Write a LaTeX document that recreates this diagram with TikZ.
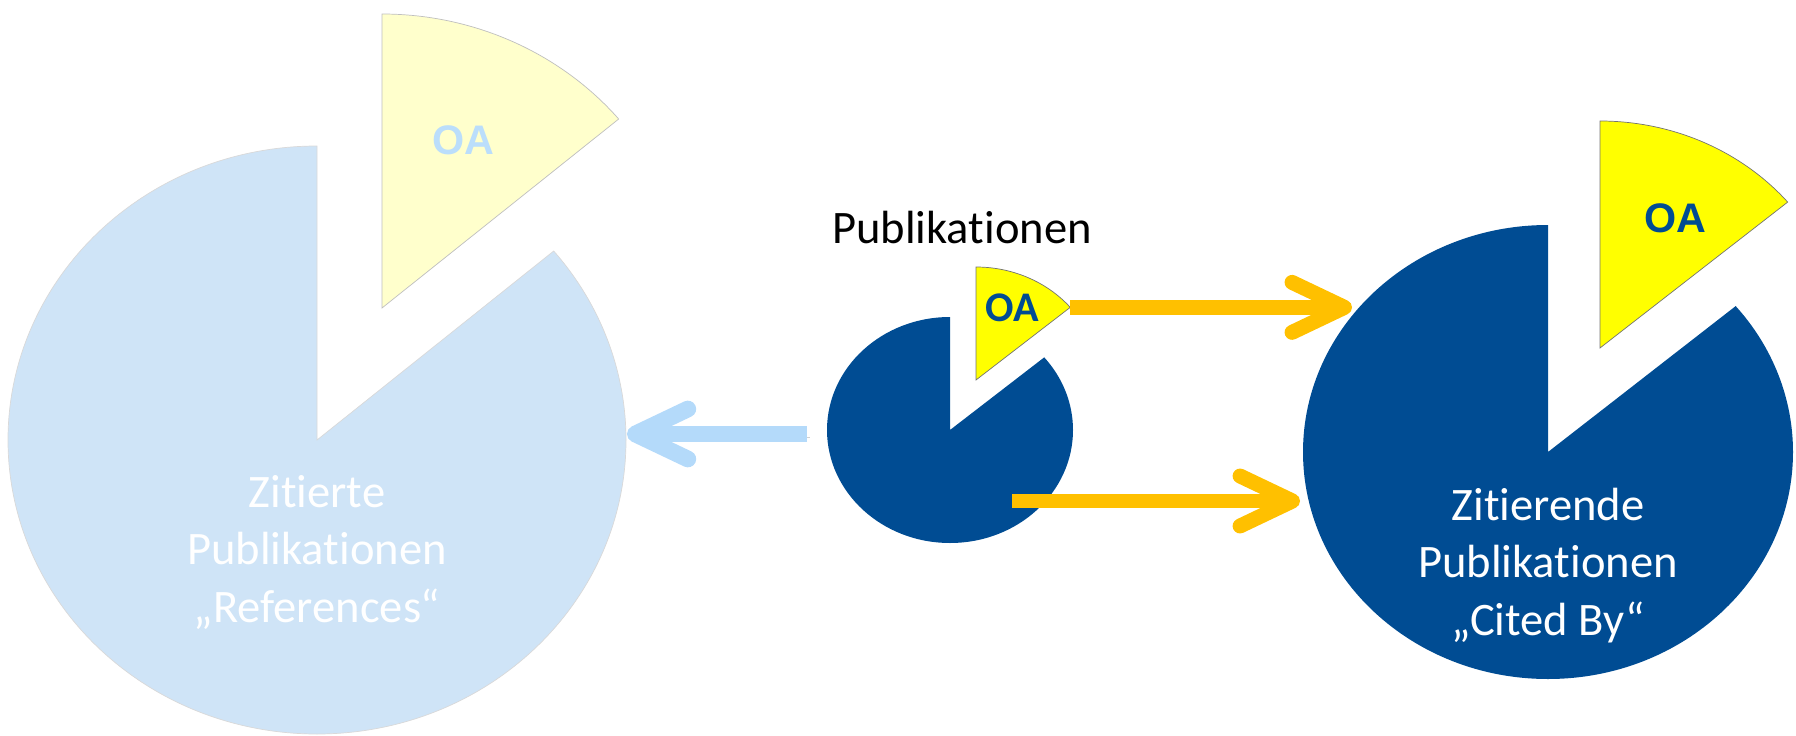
\documentclass[tikz,border=0pt]{standalone}
\usepackage{fontspec}
\setmainfont{Carlito}[Ligatures=NoCommon]
\newfontfamily\oafont{Liberation Sans}
\usetikzlibrary{arrows.meta}
\definecolor{refblue}{HTML}{CFE4F7}
\definecolor{paleyellow}{HTML}{FFFFCC}
\definecolor{citeblue}{HTML}{004C93}
\definecolor{oayellow}{HTML}{FFFF00}
\definecolor{arroworange}{HTML}{FFC000}
\definecolor{arrowblue}{HTML}{B4DAFA}
\definecolor{oapale}{HTML}{BBDEFB}
\tikzstyle{pietext}=[align=center, anchor=base, inner sep=0pt, text=white, font=\fontsize{26.5}{32.6}\selectfont]
\tikzstyle{oalabel}=[inner sep=0pt, font=\oafont\bfseries\fontsize{23.5}{24}\selectfont]
\tikzstyle{flow}=[line width=8.5pt, -{Straight Barb[round, length=1.05cm, width=1.0cm]},
	preaction={draw=black, opacity=0.18, transform canvas={shift={(1.5pt,-2pt)}}}]

\begin{document}
\begin{tikzpicture}[x=0.02cm, y=0.02cm]
			\useasboundingbox (0,0) rectangle (1796,735);
			% pie centres and exploded OA slices
			\coordinate (Lc) at (317,295);
			\coordinate (Lw) at (382,427);
			\coordinate (Sc) at (950,305);
			\coordinate (Sw) at (976,355);
			\coordinate (Rc) at (1548,283);
			\coordinate (Rw) at (1600,387);
			% cited publications
			\filldraw[fill=refblue, draw=black!15] (Lc) -- ++(90:309 and 294) arc[start angle=90, end angle=400, x radius=309, y radius=294] -- cycle;
			\filldraw[fill=paleyellow, draw=black!25] (Lw) -- ++(40:309 and 294) arc[start angle=40, end angle=90, x radius=309, y radius=294] -- cycle;
			% publications
			\fill[citeblue] (Sc) -- ++(90:123 and 113) arc[start angle=90, end angle=400, x radius=123, y radius=113] -- cycle;
			\filldraw[fill=oayellow, draw=black!55] (Sw) -- ++(40:123 and 113) arc[start angle=40, end angle=90, x radius=123, y radius=113] -- cycle;
			% citing publications
			\fill[citeblue] (Rc) -- ++(90:245 and 227) arc[start angle=90, end angle=400, x radius=245, y radius=227] -- cycle;
			\filldraw[fill=oayellow, draw=black!55] (Rw) -- ++(40:245 and 227) arc[start angle=40, end angle=90, x radius=245, y radius=227] -- cycle;

			% base = last line
			\node[pietext] (ref) at (317,113) {Zitierte\\Publikationen\\„References“};
			\node[pietext] (cited) at (1548,100) {Zitierende\\Publikationen\\„Cited By“};
			\node[pietext, text=black] (pub) at (962,492) {Publikationen};
			\node[oalabel, text=oapale] (oa-ref) at (463,595) {OA};
			\node[oalabel, text=citeblue, font=\bfseries\fontsize{24}{24}\selectfont] (oa-pub) at (1012,427) {OA};
			\node[oalabel, text=citeblue] (oa-cited) at (1675,517) {OA};

			% arrow ends
			\path (Sw) ++(40:123 and 113) coordinate (s-tip);
			\coordinate (r-top) at (1352,429);
			\coordinate (s-low) at (1012,234);
			\coordinate (r-low) at (1300,234);
			\coordinate (s-left) at (807,301);
			\coordinate (l-in) at (627,301);
			\draw[flow, arroworange] (s-tip) -- (s-tip -| r-top);
			\draw[flow, arroworange] (s-low) -- (r-low);
			\draw[flow, arrowblue, line width=9.5pt] (s-left) -- (l-in);
		\end{tikzpicture}
\end{document}
